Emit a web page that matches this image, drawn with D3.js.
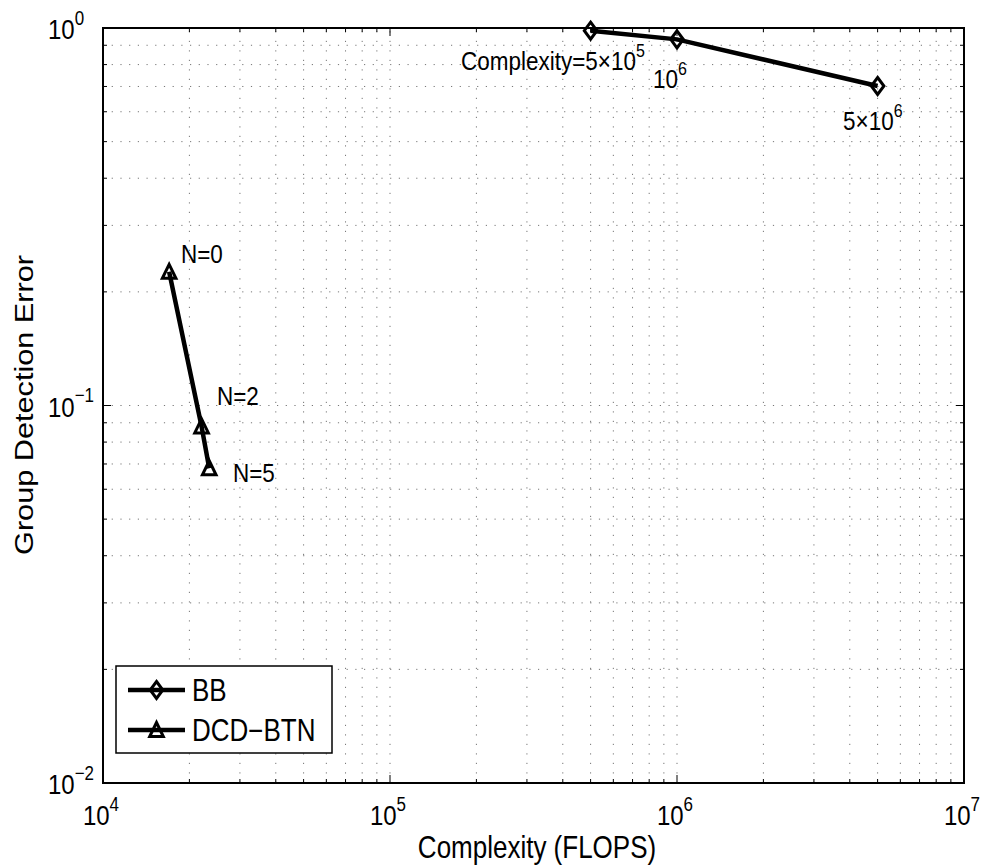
<!DOCTYPE html>
<html>
<head>
<meta charset="utf-8">
<script src="https://cdn.jsdelivr.net/npm/d3@7"></script>
<style>
body { margin: 0; background: #fff; }
text { font-family: "Liberation Sans", Arial, sans-serif; fill: #000; }
</style>
</head>
<body>
<script>
// data
var bbX = [5e5, 1e6, 5e6];
var bbY = [0.984, 0.933, 0.702];
var bbLabels = ["Complexity=5\u00d710", "10", "5\u00d710"];
var bbExp = ["5", "6", "6"];

var dcdX = [17000, 22050, 23450];
var dcdY = [0.226, 0.088, 0.0682];
var dcdLabels = ["N=0", "N=2", "N=5"];

var xDecades = [4, 5, 6, 7];
var yDecades = [-2, -1, 0];

var width = 989, height = 867;
var pL = 103, pR = 964, pT = 28, pB = 783;
var sy = 1.18; // the figure is a bit stretched vertically, text too

var svg = d3.select("body").append("svg").attr("width", width).attr("height", height).style("background", "white");

var x = d3.scaleLog().domain([1e4, 1e7]).range([pL, pR]);
var y = d3.scaleLog().domain([1e-2, 1]).range([pB, pT]);

function txt(g, tx, ty, size, anchor) {
  return g.append("text").attr("transform", "translate(" + tx + "," + ty + ") scale(1," + sy + ")")
    .attr("font-size", size).attr("text-anchor", anchor || "start");
}

// minor + major tick values
var xTicks = [], yTicks = [];
for (var d = 4; d < 7; d++) for (var k = 1; k < 10; k++) xTicks.push(k * Math.pow(10, d));
xTicks.push(1e7);
for (var d = -2; d < 0; d++) for (var k = 1; k < 10; k++) yTicks.push(k * Math.pow(10, d));
yTicks.push(1);

function isMajor(v) { var l = Math.log10(v); return Math.abs(l - Math.round(l)) < 1e-9; }

// dotted grid
var grid = svg.append("g").attr("stroke", "#777").attr("stroke-width", 1);
xTicks.forEach(function(v) {
  if (v <= 1e4 || v >= 1e7) return;
  grid.append("line").attr("x1", x(v)).attr("x2", x(v)).attr("y1", pB).attr("y2", pT).attr("stroke-dasharray", "1.2,8.3");
});
yTicks.forEach(function(v) {
  if (v <= 1e-2 || v >= 1) return;
  grid.append("line").attr("x1", pL).attr("x2", pR).attr("y1", y(v)).attr("y2", y(v)).attr("stroke-dasharray", "1.2,7.5");
});

// ticks on all four sides, pointing inward
var ticks = svg.append("g").attr("stroke", "#000").attr("stroke-width", 1);
xTicks.forEach(function(v) {
  var len = isMajor(v) ? 8 : 4;
  ticks.append("line").attr("x1", x(v)).attr("x2", x(v)).attr("y1", pB).attr("y2", pB - len);
  ticks.append("line").attr("x1", x(v)).attr("x2", x(v)).attr("y1", pT).attr("y2", pT + len);
});
yTicks.forEach(function(v) {
  var len = isMajor(v) ? 8 : 4;
  ticks.append("line").attr("x1", pL).attr("x2", pL + len).attr("y1", y(v)).attr("y2", y(v));
  ticks.append("line").attr("x1", pR).attr("x2", pR - len).attr("y1", y(v)).attr("y2", y(v));
});

svg.append("rect").attr("x", pL).attr("y", pT).attr("width", pR - pL).attr("height", pB - pT)
  .attr("fill", "none").attr("stroke", "#000").attr("stroke-width", 2);

// tick labels 10^n
xDecades.forEach(function(d) {
  var t = txt(svg, x(Math.pow(10, d)) - 2, 825, 24, "middle");
  t.append("tspan").text("10");
  t.append("tspan").attr("dy", -12).attr("font-size", 17).text(d);
});
yDecades.forEach(function(d) {
  var t = txt(svg, 48, y(Math.pow(10, d)) + 11, 24, "start");
  t.append("tspan").text("10");
  t.append("tspan").attr("dy", -12).attr("font-size", 17).text(d === 0 ? "0" : "\u2212" + (-d));
});

txt(svg, 537, 858, 26, "middle").text("Complexity (FLOPS)");
svg.append("text").attr("transform", "translate(33,405) scale(1," + sy + ") rotate(-90)")
  .attr("text-anchor", "middle").attr("font-size", 26).text("Group Detection Error");

// series
var line = d3.line().x(function(d) { return x(d[0]); }).y(function(d) { return y(d[1]); });
var bb = bbX.map(function(v, i) { return [v, bbY[i]]; });
var dcd = dcdX.map(function(v, i) { return [v, dcdY[i]]; });

function diamond(g, cx, cy) {
  g.append("path").attr("d", "M" + cx + "," + (cy - 8.5) + "L" + (cx + 6.3) + "," + cy + "L" + cx + "," + (cy + 8.5) + "L" + (cx - 6.3) + "," + cy + "Z")
    .attr("fill", "none").attr("stroke", "#000").attr("stroke-width", 3);
}
function triangle(g, cx, cy) {
  g.append("path").attr("d", "M" + cx + "," + (cy - 7.5) + "L" + (cx + 6.8) + "," + (cy + 6.5) + "L" + (cx - 6.8) + "," + (cy + 6.5) + "Z")
    .attr("fill", "none").attr("stroke", "#000").attr("stroke-width", 3);
}

svg.append("path").datum(bb).attr("d", line).attr("fill", "none").attr("stroke", "#000").attr("stroke-width", 4.5);
svg.append("path").datum(dcd).attr("d", line).attr("fill", "none").attr("stroke", "#000").attr("stroke-width", 4.5);
var marks = svg.append("g");
bb.forEach(function(p) { diamond(marks, x(p[0]), y(p[1])); });
dcd.forEach(function(p) { triangle(marks, x(p[0]), y(p[1])); });

// annotations
var bbLabPos = [[461, 70], [653, 88], [843, 130]];
bbLabels.forEach(function(s, i) {
  var t = txt(svg, bbLabPos[i][0], bbLabPos[i][1], 22.5, "start");
  t.append("tspan").text(s);
  t.append("tspan").attr("dy", -11).attr("font-size", 16).text(bbExp[i]);
});
var dcdLabPos = [[181, 263], [217, 405], [233, 482]];
dcdLabels.forEach(function(s, i) {
  txt(svg, dcdLabPos[i][0], dcdLabPos[i][1], 22.5, "start").text(s);
});

// legend
var lg = svg.append("g");
lg.append("rect").attr("x", 116).attr("y", 666).attr("width", 216).attr("height", 87)
  .attr("fill", "#fff").attr("stroke", "#000").attr("stroke-width", 1.5);
var legendNames = ["BB", "DCD\u2212BTN"];
legendNames.forEach(function(n, i) {
  var ly = 690 + i * 40;
  lg.append("line").attr("x1", 128).attr("x2", 185).attr("y1", ly).attr("y2", ly).attr("stroke", "#000").attr("stroke-width", 4.5);
  if (i === 0) diamond(lg, 156.5, ly); else triangle(lg, 156.5, ly);
  txt(lg, 192, ly + 11, 26, "start").text(n);
});
</script>
</body>
</html>
